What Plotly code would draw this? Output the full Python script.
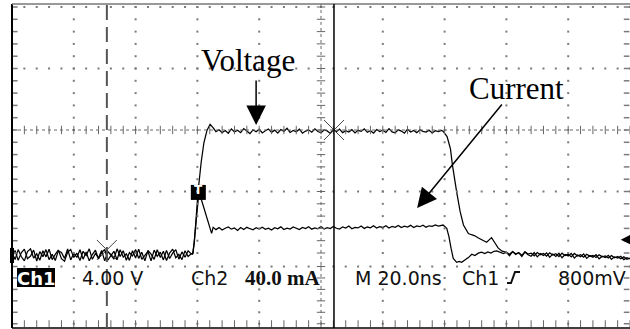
import numpy as np
import plotly.graph_objects as go

# ---------------- data ----------------
# time in ns (20 ns/div), Ch1 voltage in V (4 V/div), Ch2 current in mA (40 mA/div)
t_v_base = list(range(0, 59))
v_base = [0.15, -0.30, 0.35, -0.10, -0.38, 0.22, 0.40, -0.20, 0.08, -0.34, 0.28, -0.12, 0.38, -0.30, 0.04, 0.32, -0.24,
          -0.40, 0.18, 0.36, -0.16, 0.12, -0.36, 0.24, -0.04, 0.40, -0.28, 0.10, -0.20, 0.30, -0.38, 0.22, 0.00, -0.26,
          0.40, -0.10, 0.28, -0.34, 0.16, -0.06, 0.36, -0.22, 0.18, -0.38, 0.30, 0.06, -0.28, 0.34, -0.16, 0.24, -0.36,
          0.12, 0.38, -0.18, 0.04, -0.30, 0.28, -0.10, 0.08]
t_v_rise = [58.4, 59.0, 59.5, 60.2, 61.2, 62.1, 63.1, 64.1, 65.0]
v_rise = [0.05, 0.8, 2.4, 4.1, 6.0, 7.3, 8.1, 8.5, 8.3]
t_v_top = list(range(66, 140))
v_top = [8.02, 8.15, 7.95, 8.10, 7.92, 8.20, 8.00, 8.12, 7.96, 8.22, 8.05, 7.90, 8.14, 8.02, 8.18, 7.94, 8.08, 8.20, 7.98, 8.12,
         7.93, 8.16, 8.04, 8.24, 7.97, 8.10, 8.01, 8.18, 7.92, 8.06, 8.14, 7.99, 8.21, 8.03, 7.95, 8.13, 8.07, 7.91, 8.17, 8.02,
         8.19, 7.96, 8.09, 8.00, 8.15, 7.94, 8.11, 8.04, 8.20, 7.98, 8.08, 7.93, 8.16, 8.03, 8.12, 7.97, 8.22, 8.01, 7.95, 8.14,
         8.06, 7.92, 8.18, 8.00, 8.10, 7.96, 8.15, 8.04, 7.99, 8.12, 7.94, 8.08, 8.02, 8.10]
t_v_fall = [139.5, 140.8, 141.9, 142.5, 143.9, 145.0, 146.1, 147.0, 147.7, 148.7, 149.8, 150.8, 152.0, 152.8,
            153.6, 154.5, 155.2, 156.3, 157.3, 158.6]
v_fall = [8.05, 7.7, 6.9, 5.9, 4.1, 2.85, 1.95, 1.6, 1.4, 1.32, 1.25, 1.12, 0.98, 0.92, 0.83, 1.0, 1.13, 0.78, 0.46, 0.25]
t_v_tail = list(range(160, 201))
v_tail = [0.18, 0.05, 0.22, 0.08, 0.15, -0.02, 0.20, 0.06, 0.12, -0.05, 0.16, 0.02, 0.10, -0.08, 0.14, 0.00, 0.08, -0.10,
          0.12, -0.04, 0.06, -0.12, 0.10, -0.06, 0.02, -0.14, 0.05, -0.08, -0.02, -0.16, 0.02, -0.12, -0.06, -0.20, -0.04,
          -0.18, -0.10, -0.24, -0.12, -0.28, -0.20]

t_i_base = list(range(0, 59))
i_base = [-2.0, 3.0, -3.5, 1.4, 3.8, -2.4, -0.7, 3.2, -3.9, 2.2, -1.1, 3.5, -3.0, 0.5, -3.6, 2.7, 1.6, -2.2, 3.9, -3.2,
          1.1, -1.6, 3.4, -2.7, 1.9, -3.8, 0.3, 3.1, -2.6, 1.5, 3.6, -3.4, -0.4, 2.4, -3.1, 3.5, -1.4, 0.8, -3.5, 2.8,
          -1.9, 3.8, -2.8, 0.0, 2.3, -3.8, 3.2, -0.9, 1.8, -3.2, 3.0, -2.3, 1.2, 3.5, -2.7, 2.0, -1.5, 2.7, 0.7]
t_i_rise = [58.6, 59.2, 59.9, 60.5, 61.5, 62.5, 63.4, 64.6, 65.1]
i_rise = [1.0, 15.0, 30.0, 41.0, 34.6, 28.3, 21.9, 14.1, 18.0]
t_i_top = list(range(66, 140))
i_top = [16.5, 17.8, 16.2, 17.4, 18.2, 16.8, 17.6, 16.0, 17.9, 16.6, 18.0, 17.1, 16.4, 17.7, 16.9, 18.1, 16.7, 17.5, 16.3, 17.8,
         17.0, 18.3, 16.6, 17.4, 16.9, 18.2, 17.3, 16.5, 17.9, 17.2, 18.4, 16.8, 17.6, 17.0, 18.5, 16.9, 17.8, 17.2, 18.6, 17.4,
         16.9, 18.3, 17.5, 18.8, 17.1, 18.0, 17.6, 18.9, 17.3, 18.2, 17.7, 19.0, 17.5, 18.4, 17.9, 19.1, 17.6, 18.6, 18.0, 19.2,
         17.8, 18.7, 18.2, 19.3, 17.9, 18.9, 18.4, 19.4, 18.1, 19.0, 18.6, 19.5, 18.8, 19.3]
t_i_fall = [139.5, 140.7, 141.4, 142.1, 142.8, 143.9, 144.7, 145.5, 146.6, 147.7, 148.8, 149.8, 150.9, 152.0,
            153.0, 154.0, 155.0, 156.0, 156.9, 158.0, 159.0]
i_fall = [19.5, 17.4, 11.9, 4.3, -2.2, -4.8, -4.2, -4.8, -3.3, -1.7, 0.5, -0.4, 1.2, 1.8, 0.9, 2.0, 1.2, 2.4, 2.6, 1.5, 1.0]
t_i_tail = list(range(160, 201))
i_tail = [1.8, -0.5, 2.2, 0.4, 1.5, -1.0, 2.0, 0.2, -0.8, 1.6, -1.2, 0.9, -0.3, 1.4, -1.5, 0.6, -0.9, 1.1, -1.8, 0.3,
          -0.6, 1.0, -2.0, 0.0, -1.1, 0.7, -2.2, -0.4, -1.4, 0.2, -2.5, -0.8, -1.6, -0.2, -2.8, -1.2, -2.0, -0.9, -3.0,
          -1.8, -2.6]

cursor_t = [30.7, 104.2]          # dashed cursor, solid cursor
xmark_t = [30.7, 104.2]
xmark_v = [0.33, 8.13]
trig_mark_t = [60.3]
trig_mark_v = [4.07]
trig_level_v = 1.0
ground_v = 0.0

# graticule (time in ns, vertical in divisions)
grid_cols = [20, 40, 60, 80, 120, 140, 160, 180]
grid_rows = [2.0, 1.0, -1.0, -2.22]
center_t = 100
bottom_row = -3.15
minor_t = list(np.arange(0, 200.1, 4))
minor_y = list(np.arange(2.0, -2.05, -0.2)) + list(np.linspace(-2.22, -3.15, 6))

readout = [("4.00 V", 82), ("Ch2", 191), ("M 20.0ns", 355), ("Ch1", 462), ("800mV", 558)]

# ---------------- figure ----------------
W, H = 630, 329
ML, MR, MT, MB = 12, 0, 4, 1
PW, PH = W - ML - MR, H - MT - MB


def px(x):
    return (x - ML) / PW


def py(y):
    return (H - MB - y) / PH


t_v = t_v_base + t_v_rise + t_v_top + t_v_fall + t_v_tail
v = v_base + v_rise + v_top + v_fall + v_tail
t_i = t_i_base + t_i_rise + t_i_top + t_i_fall + t_i_tail
cur = i_base + i_rise + i_top + i_fall + i_tail

fig = go.Figure()

GRID = '#7a7a7a'
# graticule dots
gx, gy = [], []
for r in grid_rows:
    gx += minor_t
    gy += [r] * len(minor_t)
for c in grid_cols:
    gx += [c] * len(minor_y)
    gy += minor_y
fig.add_trace(go.Scatter(x=gx, y=gy, mode='markers', xaxis='x', yaxis='y3', hoverinfo='skip',
                         marker=dict(symbol='square', size=2, color=GRID, line=dict(width=0))))
# center axes
fig.add_trace(go.Scatter(x=[0, 200], y=[0, 0], mode='lines', xaxis='x', yaxis='y3', hoverinfo='skip',
                         line=dict(color='#666', width=1, dash='dot')))
fig.add_trace(go.Scatter(x=minor_t, y=[0] * len(minor_t), mode='markers', xaxis='x', yaxis='y3', hoverinfo='skip',
                         marker=dict(symbol='line-ns', size=6, line=dict(width=1, color='#666'))))
fig.add_trace(go.Scatter(x=[center_t, center_t], y=[2.05, -3.22], mode='lines', xaxis='x', yaxis='y3', hoverinfo='skip',
                         line=dict(color='#666', width=1, dash='dot')))
fig.add_trace(go.Scatter(x=[center_t] * len(minor_y), y=minor_y, mode='markers', xaxis='x', yaxis='y3', hoverinfo='skip',
                         marker=dict(symbol='line-ew', size=6, line=dict(width=1, color='#666'))))
# edge ticks
fig.add_trace(go.Scatter(x=[0.9] * len(minor_y), y=minor_y, mode='markers', xaxis='x', yaxis='y3', hoverinfo='skip',
                         marker=dict(symbol='line-ew', size=4, line=dict(width=1.5, color=GRID))))
fig.add_trace(go.Scatter(x=[198.9] * len(minor_y), y=minor_y, mode='markers', xaxis='x', yaxis='y3', hoverinfo='skip',
                         marker=dict(symbol='line-ew', size=4, line=dict(width=1.5, color=GRID))))
fig.add_trace(go.Scatter(x=minor_t, y=[bottom_row] * len(minor_t), mode='markers', xaxis='x', yaxis='y3', hoverinfo='skip',
                         marker=dict(symbol='line-ns', size=5, line=dict(width=1, color='#666'))))

# traces
fig.add_trace(go.Scatter(x=t_v, y=v, mode='lines', name='Voltage', xaxis='x', yaxis='y',
                         line=dict(color='black', width=1.25)))
fig.add_trace(go.Scatter(x=t_i, y=cur, mode='lines', name='Current', xaxis='x', yaxis='y2',
                         line=dict(color='black', width=1.25)))
# cursor crosses
fig.add_trace(go.Scatter(x=xmark_t, y=xmark_v, mode='markers', xaxis='x', yaxis='y', hoverinfo='skip',
                         marker=dict(symbol='x-thin', size=20, line=dict(width=1, color='#444'))))
# trigger-position marker
fig.add_trace(go.Scatter(x=trig_mark_t, y=trig_mark_v, mode='markers', xaxis='x', yaxis='y', hoverinfo='skip',
                         marker=dict(symbol='square', size=15, color='black', line=dict(width=0))))

v_lo = (255 - (H - MB)) * 4 / 61.5
v_hi = (255 - MT) * 4 / 61.5
y3_lo = (130 - (H - MB)) / 61.5
y3_hi = (130 - MT) / 61.5

shapes = [
    # borders
    dict(type='line', xref='paper', yref='paper', x0=0, x1=0, y0=0, y1=1, line=dict(color='black', width=2)),
    dict(type='line', xref='paper', yref='paper', x0=0, x1=1, y0=1, y1=1, line=dict(color='#777', width=1.5)),
    dict(type='line', xref='paper', yref='paper', x0=0, x1=1, y0=0, y1=0, line=dict(color='black', width=1.5)),
    # cursors
    dict(type='line', xref='x', yref='paper', x0=cursor_t[0], x1=cursor_t[0], y0=0, y1=1,
         line=dict(color='#555', width=2, dash='15px,7px')),
    dict(type='line', xref='x', yref='paper', x0=cursor_t[1], x1=cursor_t[1], y0=0, y1=1,
         line=dict(color='black', width=1.5)),
    # ground level marker
    dict(type='rect', xref='paper', yref='y', x0=px(10), x1=px(14), y0=ground_v - 0.52, y1=ground_v + 0.46,
         fillcolor='black', line=dict(width=0)),
    # Ch1 readout box
    dict(type='rect', xref='paper', yref='paper', x0=px(17), x1=px(55), y0=py(287), y1=py(268),
         fillcolor='black', line=dict(width=0)),
    # trigger slope glyph
    dict(type='path', xref='paper', yref='paper',
         path=f'M{px(507)},{py(283)} L{px(511)},{py(283)} L{px(515)},{py(272)} L{px(520)},{py(272)}',
         line=dict(color='#111', width=2)),
]

RO = dict(family='DejaVu Sans', size=19, color='#111')
ann = [
    dict(x=76.4, y=12.68, xref='x', yref='y', text='Voltage', showarrow=False,
         font=dict(family='Liberation Serif', size=31, color='black')),
    dict(x=163.4, y=10.86, xref='x', yref='y', text='Current', showarrow=False,
         font=dict(family='Liberation Serif', size=31, color='black')),
    dict(x=79.0, y=8.46, xref='x', yref='y', text='', showarrow=True, ax=0, ay=-46,
         arrowhead=2, arrowsize=2.6, arrowwidth=1.5, arrowcolor='black'),
    dict(x=131.1, y=3.06, xref='x', yref='y', text='', showarrow=True, ax=86, ay=-105,
         arrowhead=2, arrowsize=2.6, arrowwidth=1.5, arrowcolor='black'),
    # trigger level arrow
    dict(x=197.0, y=trig_level_v, xref='x', yref='y', text='', showarrow=True, ax=20, ay=0,
         arrowhead=2, arrowsize=1.8, arrowwidth=1.6, arrowcolor='black'),
    # T inside trigger marker
    dict(x=trig_mark_t[0], y=trig_mark_v[0], xref='x', yref='y', text='<b>T</b>', showarrow=False, yshift=2,
         xanchor='center', yanchor='middle',
         font=dict(family='DejaVu Sans', size=12, color='white')),
    dict(x=px(36), y=py(278), xref='paper', yref='paper', text='<b>Ch1</b>', showarrow=False,
         xanchor='center', yanchor='middle',
         font=dict(family='DejaVu Sans', size=18, color='white')),
    dict(x=px(243), y=py(278), xref='paper', yref='paper', text='<b>40.0 mA</b>', showarrow=False,
         xanchor='left', yanchor='middle',
         font=dict(family='Liberation Serif', size=21, color='#111')),
]
for txt, xl in readout:
    ann.append(dict(x=px(xl - 2), y=py(278), xref='paper', yref='paper', text=txt, showarrow=False,
                    xanchor='left', yanchor='middle', font=RO))

fig.update_layout(
    width=W, height=H, autosize=False,
    margin=dict(l=ML, r=MR, t=MT, b=MB, pad=0),
    paper_bgcolor='white', plot_bgcolor='white',
    showlegend=False,
    xaxis=dict(range=[0, 200], visible=False, fixedrange=True),
    yaxis=dict(range=[v_lo, v_hi], visible=False, fixedrange=True),
    yaxis2=dict(range=[v_lo * 10, v_hi * 10], overlaying='y', visible=False, fixedrange=True),
    yaxis3=dict(range=[y3_lo, y3_hi], overlaying='y', visible=False, fixedrange=True),
    shapes=shapes,
    annotations=ann,
)

fig.write_html("out.html")
